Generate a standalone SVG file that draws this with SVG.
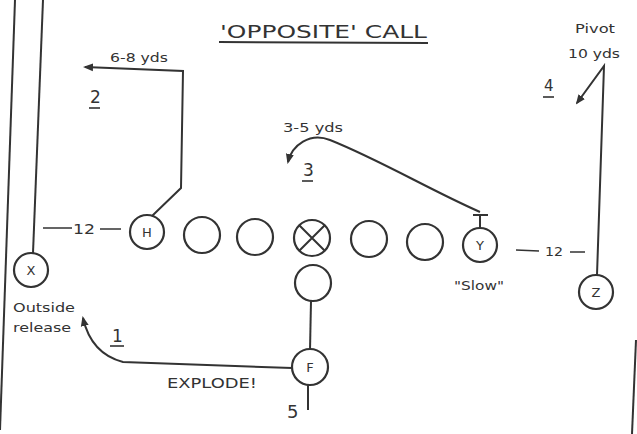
<svg xmlns="http://www.w3.org/2000/svg" width="637" height="434" viewBox="0 0 637 434">
<style>
.p{fill:none;stroke:#333;stroke-width:2}
.c{fill:#fff;stroke:#333;stroke-width:2.2}
.t{font-family:"DejaVu Sans","Liberation Sans",Arial,sans-serif;fill:#333}
.l{stroke:#333;stroke-width:1.6;fill:none}
</style>
<defs>
<marker id="ah" viewBox="0 0 10 10" refX="8" refY="5" markerWidth="5" markerHeight="5" orient="auto-start-reverse">
<path d="M0,1 L10,5 L0,9 Z" fill="#333"/>
</marker>
</defs>
<rect width="637" height="434" fill="#fff"/>
<g id="borders">
<path class="p" d="M15,0 L0,430"/>
<path class="p" d="M636,340 L632,434"/>
</g>
<g id="title">
<text class="t" x="220" y="38" font-size="18" textLength="207" lengthAdjust="spacingAndGlyphs">'OPPOSITE' CALL</text>
<path class="p" d="M219,42 L428,43"/>
</g>
<g id="connectors">
<path class="p" d="M43,0 L33,253"/>
<path class="p" d="M152,216 L181,188 L183,71 L85,67" marker-end="url(#ah)"/>
<path class="p" d="M480,227 L480,215 M473,215 L488,215"/>
<path class="p" d="M480,212 C430,190 380,160 330,140 C310,132 292,145 288,162" marker-end="url(#ah)"/>
<path class="p" d="M597,275 L604,66 L577,103" marker-end="url(#ah)"/>
<path class="p" d="M311,301 L310,350"/>
<path class="p" d="M308,385 L308,410"/>
<path class="p" d="M292,368 L123,362 C100,356 88,340 83,318" marker-end="url(#ah)"/>
<path class="l" d="M43,228 L72,228 M100,229 L121,229"/>
<path class="l" d="M516,250 L539,251 M570,252 L585,252"/>
</g>
<g id="X"><circle class="c" cx="31" cy="270" r="17"/><text class="t" x="31" y="275" font-size="13" text-anchor="middle">X</text></g>
<g id="H"><circle class="c" cx="147" cy="232" r="17"/><text class="t" x="147" y="237" font-size="13" text-anchor="middle">H</text></g>
<g id="L2"><circle class="c" cx="202" cy="235" r="18"/></g>
<g id="L1"><circle class="c" cx="255" cy="237" r="18"/></g>
<g id="C"><circle class="c" cx="312" cy="238" r="18"/><path class="p" d="M299,225 L325,251 M325,225 L299,251"/></g>
<g id="R1"><circle class="c" cx="369" cy="239" r="18"/></g>
<g id="R2"><circle class="c" cx="425" cy="242" r="18"/></g>
<g id="Y"><circle class="c" cx="480" cy="245" r="17"/><text class="t" x="480" y="250" font-size="13" text-anchor="middle">Y</text></g>
<g id="Z"><circle class="c" cx="596" cy="292" r="17"/><text class="t" x="596" y="297" font-size="13" text-anchor="middle">Z</text></g>
<g id="Q"><circle class="c" cx="313" cy="283" r="18"/></g>
<g id="F"><circle class="c" cx="310" cy="367" r="18"/><text class="t" x="310" y="372" font-size="13" text-anchor="middle">F</text></g>
<g id="labels">
<text class="t" x="110" y="62" font-size="13" textLength="58" lengthAdjust="spacingAndGlyphs">6-8 yds</text>
<text class="t" x="90" y="103" font-size="17">2</text>
<path class="l" d="M89,108 L100,108"/>
<text class="t" x="283" y="132" font-size="13" textLength="60" lengthAdjust="spacingAndGlyphs">3-5 yds</text>
<text class="t" x="303" y="176" font-size="17">3</text>
<path class="l" d="M302,181 L313,181"/>
<text class="t" x="575" y="33" font-size="12" textLength="40" lengthAdjust="spacingAndGlyphs">Pivot</text>
<text class="t" x="568" y="58" font-size="13" textLength="52" lengthAdjust="spacingAndGlyphs">10 yds</text>
<text class="t" x="544" y="91" font-size="15">4</text>
<path class="l" d="M543,97 L554,97"/>
<text class="t" x="73" y="234" font-size="14" textLength="22" lengthAdjust="spacingAndGlyphs">12</text>
<text class="t" x="545" y="256" font-size="13" textLength="18" lengthAdjust="spacingAndGlyphs">12</text>
<text class="t" x="454" y="290" font-size="12" textLength="50" lengthAdjust="spacingAndGlyphs">"Slow"</text>
<text class="t" x="13" y="312" font-size="13" textLength="62" lengthAdjust="spacingAndGlyphs">Outside</text>
<text class="t" x="13" y="332" font-size="13" textLength="58" lengthAdjust="spacingAndGlyphs">release</text>
<text class="t" x="112" y="342" font-size="17">1</text>
<path class="l" d="M110,346 L124,346"/>
<text class="t" x="167" y="388" font-size="14" textLength="90" lengthAdjust="spacingAndGlyphs">EXPLODE!</text>
<text class="t" x="287" y="418" font-size="18">5</text>
</g>
</svg>
